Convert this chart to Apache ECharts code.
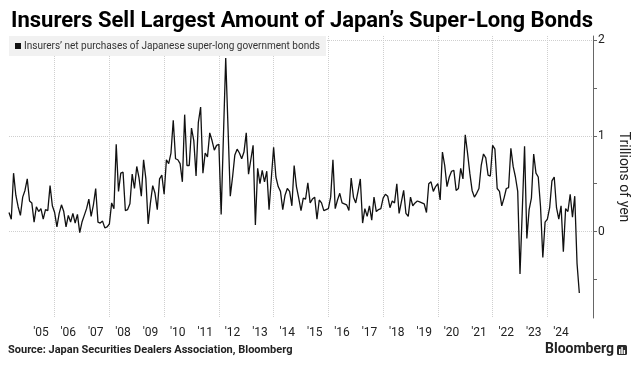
<!DOCTYPE html>
<html>
<head>
<meta charset="utf-8">
<script src="https://cdn.jsdelivr.net/npm/echarts@6/dist/echarts.min.js"></script>
<style>
html,body{margin:0;padding:0;background:#fff;}
#chart{width:641px;height:372px;}
</style>
</head>
<body>
<div id="chart"></div>
<script>
// Monthly categories: May 2004 .. Sep 2025 (axis padded past the last observation)
const startYear = 2004, startMonth = 5, endYear = 2025, endMonth = 9;
const months = [];
for (let y = startYear, m = startMonth; y < endYear || (y === endYear && m <= endMonth); ) {
  months.push(y + '-' + String(m).padStart(2, '0'));
  m++; if (m > 12) { m = 1; y++; }
}

// Insurers' net purchases of Japanese super-long government bonds, trillions of yen
const v2004 = [0.20, 0.13, 0.61, 0.38, 0.26, 0.17, 0.36, 0.43];
const v2005 = [0.55, 0.32, 0.30, 0.10, 0.26, 0.21, 0.24, 0.13, 0.23, 0.22, 0.48, 0.27];
const v2006 = [0.20, 0.05, 0.19, 0.28, 0.21, 0.05, 0.17, 0.10, 0.19, 0.09, 0.18, -0.01];
const v2007 = [0.10, 0.17, 0.24, 0.34, 0.16, 0.28, 0.45, 0.10, 0.09, 0.11, 0.04, 0.05];
const v2008 = [0.08, 0.30, 0.24, 0.91, 0.42, 0.61, 0.62, 0.22, 0.23, 0.29, 0.60, 0.45];
const v2009 = [0.68, 0.56, 0.37, 0.75, 0.55, 0.08, 0.30, 0.48, 0.40, 0.23, 0.55, 0.59];
const v2010 = [0.39, 0.75, 0.71, 0.82, 1.16, 0.76, 0.75, 0.71, 0.52, 1.22, 0.69, 0.69];
const v2011 = [1.08, 0.95, 0.58, 1.14, 1.30, 0.61, 0.82, 0.78, 1.03, 0.95, 0.85, 0.90];
const v2012 = [0.91, 0.18, 1.00, 1.81, 1.09, 0.37, 0.57, 0.80, 0.86, 0.82, 0.76, 0.83];
const v2013 = [1.03, 0.60, 0.75, 0.90, 0.07, 0.66, 0.50, 0.64, 0.52, 0.63, 0.23, 0.56];
const v2014 = [0.88, 0.57, 0.47, 0.42, 0.23, 0.38, 0.45, 0.42, 0.27, 0.69, 0.47, 0.35];
const v2015 = [0.22, 0.35, 0.34, 0.51, 0.30, 0.34, 0.36, 0.13, 0.33, 0.30, 0.22, 0.23];
const v2016 = [0.24, 0.36, 0.75, 0.24, 0.33, 0.40, 0.30, 0.29, 0.28, 0.22, 0.56, 0.36];
const v2017 = [0.30, 0.42, 0.55, 0.09, 0.24, 0.16, 0.27, 0.12, 0.36, 0.21, 0.23, 0.24];
const v2018 = [0.35, 0.39, 0.37, 0.25, 0.32, 0.30, 0.50, 0.19, 0.31, 0.43, 0.19, 0.16];
const v2019 = [0.36, 0.27, 0.30, 0.32, 0.31, 0.30, 0.29, 0.20, 0.50, 0.52, 0.42, 0.47];
const v2020 = [0.50, 0.33, 0.83, 0.69, 0.47, 0.57, 0.63, 0.64, 0.43, 0.45, 0.66, 0.55];
const v2021 = [1.01, 0.82, 0.61, 0.43, 0.36, 0.40, 0.45, 0.69, 0.81, 0.77, 0.59, 0.58];
const v2022 = [0.90, 0.86, 0.45, 0.42, 0.27, 0.35, 0.45, 0.46, 0.87, 0.68, 0.57, 0.42];
const v2023 = [-0.44, 0.22, 0.89, -0.07, 0.23, 0.35, 0.81, 0.61, 0.57, 0.26, -0.27, 0.10];
const v2024 = [0.13, 0.25, 0.53, 0.57, 0.25, 0.13, 0.27, -0.21, 0.24, 0.21, 0.39, 0.15];
const v2025 = [0.37, -0.33, -0.64];

const netPurchases = [].concat(v2004, v2005, v2006, v2007, v2008, v2009, v2010, v2011,
  v2012, v2013, v2014, v2015, v2016, v2017, v2018, v2019, v2020, v2021, v2022, v2023, v2024, v2025);
const seriesData = months.map((m, i) => (i < netPurchases.length ? netPurchases[i] : null));

const yLabelValues = [0, 1, 2];
const yTickValues = [-0.5, 0, 0.5, 1, 1.5, 2];
const labelYears = ['2005','2006','2007','2008','2009','2010','2011','2012','2013','2014',
  '2015','2016','2017','2018','2019','2020','2021','2022','2023','2024'];

const chart = echarts.init(document.getElementById('chart'), null, {renderer: 'canvas'});
chart.setOption({
  animation: false,
  backgroundColor: '#ffffff',
  title: {
    text: 'Insurers Sell Largest Amount of Japan\u2019s Super-Long Bonds',
    left: 6, top: 5,
    textStyle: {fontFamily: 'Roboto', fontWeight: 'bold', fontSize: 22, color: '#000'}
  },
  legend: {
    left: 9, top: 36,
    backgroundColor: '#f1f1f1',
    padding: [5, 6, 5, 6],
    icon: 'rect', itemWidth: 6, itemHeight: 6, itemGap: 4,
    textStyle: {fontFamily: 'Roboto', fontSize: 10, color: '#333', padding: [0, 0, 0, -2]},
    data: ['Insurers\u2019 net purchases of Japanese super-long government bonds']
  },
  grid: {left: 9, right: 48, top: 36, bottom: 54, containLabel: false},
  xAxis: {
    type: 'category', data: months, boundaryGap: false,
    axisLine: {show: false}, axisTick: {show: false},
    axisLabel: {
      interval: (i, v) => v.slice(5) === '07' && labelYears.indexOf(v.slice(0, 4)) >= 0,
      formatter: v => "'" + v.slice(2, 4),
      fontFamily: 'Roboto', fontSize: 12, color: '#222', margin: 9
    },
    splitLine: {
      show: true,
      interval: (i, v) => v.slice(5) === '01' && (+v.slice(0, 4)) % 2 === 0,
      lineStyle: {type: 'dotted', color: '#cfcfcf', width: 1}
    }
  },
  yAxis: {
    type: 'value', position: 'right', min: -0.9, max: 2.04,
    axisLine: {show: true, lineStyle: {color: '#666', width: 1}},
    axisTick: {show: true, customValues: yTickValues, length: 4, lineStyle: {color: '#666'}},
    axisLabel: {customValues: yLabelValues, fontFamily: 'Roboto', fontSize: 12, color: '#222', margin: 5},
    splitLine: {show: false},
    name: 'Trillions of yen', nameLocation: 'middle', nameRotate: -90, nameGap: 23,
    nameTextStyle: {fontFamily: 'Roboto', fontSize: 14, color: '#222'}
  },
  series: [{
    name: 'Insurers\u2019 net purchases of Japanese super-long government bonds',
    type: 'line', data: seriesData, showSymbol: false, z: 3,
    lineStyle: {color: '#111', width: 1.3}, itemStyle: {color: '#111'},
    markLine: {
      silent: true, z: 1, symbol: ['none', 'none'], label: {show: false},
      lineStyle: {type: 'dotted', color: '#cfcfcf', width: 1},
      emphasis: {disabled: true},
      data: yLabelValues.map(v => ({yAxis: v}))
    }
  }],
  graphic: [
    {type: 'text', left: 8, top: 345,
     style: {text: 'Source: Japan Securities Dealers Association, Bloomberg', fontFamily: 'Roboto', fontWeight: 'bold', fontSize: 11, fill: '#222'}},
    {type: 'text', left: 545, top: 342,
     style: {text: 'Bloomberg', fontFamily: 'Roboto', fontWeight: 'bold', fontSize: 14, fill: '#222'}},
    {type: 'group', left: 617, top: 345, children: [
      {type: 'rect', shape: {x: 0, y: 0, width: 10, height: 10, r: 1.5}, style: {fill: '#2b2b2b'}},
      {type: 'rect', shape: {x: 2, y: 4, width: 1.5, height: 5}, style: {fill: '#fff'}},
      {type: 'rect', shape: {x: 4.3, y: 2, width: 1.5, height: 7}, style: {fill: '#fff'}},
      {type: 'rect', shape: {x: 6.6, y: 5, width: 1.5, height: 4}, style: {fill: '#fff'}}
    ]}
  ]
});
</script>
</body>
</html>
